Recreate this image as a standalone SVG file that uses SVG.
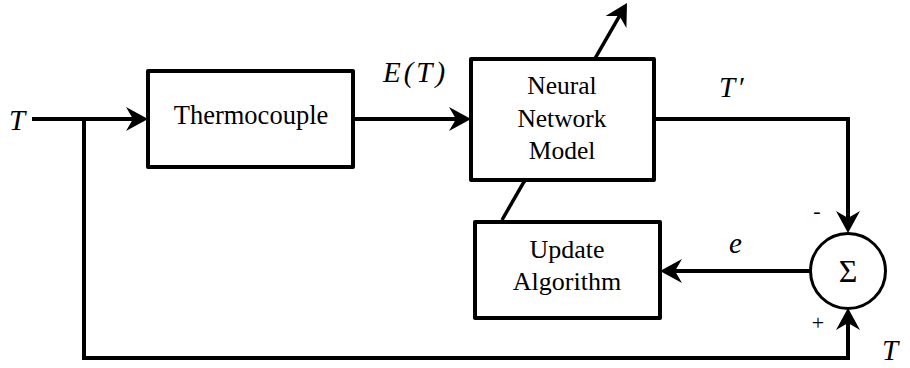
<svg xmlns="http://www.w3.org/2000/svg" width="910" height="368" viewBox="0 0 910 368">
<style>
.box{fill:#fff;stroke:#000;stroke-width:4;stroke-linejoin:round}
.wire{fill:none;stroke:#000;stroke-width:4}
</style>
<defs>
<marker id="arr" markerUnits="userSpaceOnUse" markerWidth="30" markerHeight="30" viewBox="0 -15 30 30" refX="12" refY="0" orient="auto">
<path d="M22,0 L0,-12 L7,0 L0,12 Z" fill="#000"/>
</marker>
</defs>
<rect width="910" height="368" fill="#fff"/>
<g id="connectors">
<line class="wire" x1="32" y1="119" x2="138" y2="119" marker-end="url(#arr)"/>
<path class="wire" d="M84,119 L84,358 L848,358 L848,318" marker-end="url(#arr)"/>
<line class="wire" x1="353" y1="119" x2="461" y2="119" marker-end="url(#arr)"/>
<path class="wire" d="M654,119 L848,119 L848,223" marker-end="url(#arr)"/>
<line class="wire" x1="810" y1="271" x2="670" y2="271" marker-end="url(#arr)"/>
<line class="wire" style="stroke-width:3.5" x1="502" y1="220" x2="622" y2="11.7" marker-end="url(#arr)"/>
</g>
<g font-family="Liberation Serif, serif" fill="#000">
<g id="thermocouple">
<rect class="box" x="148" y="71" width="205" height="96"/>
<text x="251" y="124" font-size="26.5" text-anchor="middle">Thermocouple</text>
</g>
<g id="neural-network">
<rect class="box" x="471" y="59" width="183" height="121"/>
<line class="wire" style="stroke-width:3.5" x1="524" y1="182" x2="597" y2="57"/>
<rect x="473" y="61" width="179" height="117" fill="#fff"/>
<text x="562" y="94" font-size="25.5" text-anchor="middle">Neural</text>
<text x="562" y="127" font-size="25.5" text-anchor="middle">Network</text>
<text x="562" y="159" font-size="25.5" text-anchor="middle">Model</text>
</g>
<g id="update-algorithm">
<rect class="box" x="475" y="222" width="185" height="96"/>
<text x="567" y="258" font-size="26" text-anchor="middle">Update</text>
<text x="567" y="290" font-size="26" text-anchor="middle">Algorithm</text>
</g>
<g id="sum">
<circle cx="848" cy="271" r="37.5" fill="#fff" stroke="#000" stroke-width="3"/>
<text x="848" y="282" font-size="32" text-anchor="middle">Σ</text>
</g>
<g id="labels" font-style="italic" font-size="29">
<text x="9" y="130">T</text>
<text x="383" y="82" letter-spacing="3">E(T)</text>
<text x="719" y="97" letter-spacing="2">T′</text>
<text x="729" y="253">e</text>
<text x="882" y="360">T</text>
<text x="817" y="218" font-style="normal" font-size="22" text-anchor="middle">-</text>
<text x="818" y="330" font-style="normal" font-size="22" text-anchor="middle">+</text>
</g>
</g>
</svg>
